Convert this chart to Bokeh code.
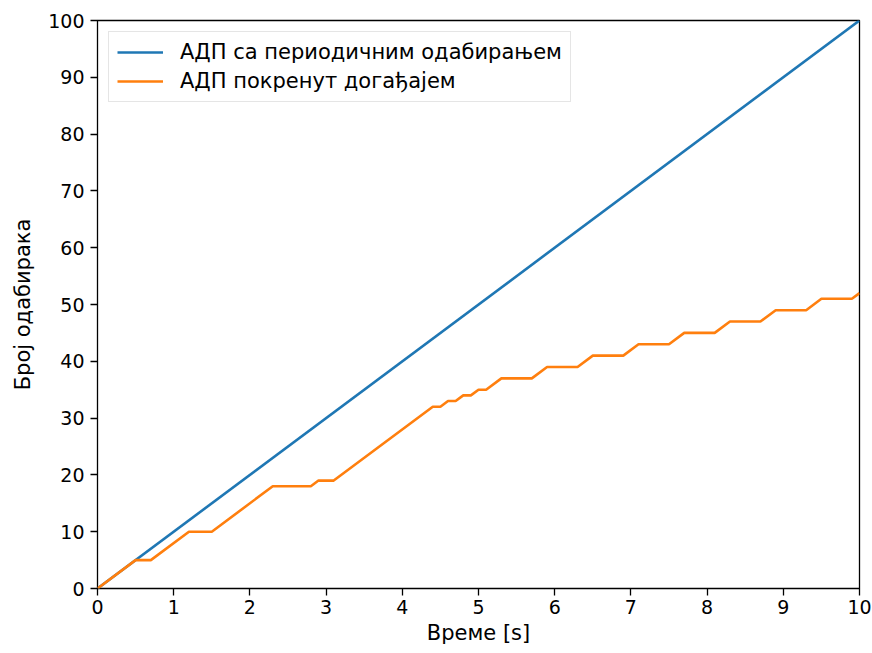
from bokeh.plotting import figure
from bokeh.models import Range1d, FixedTicker, Legend, LegendItem
from bokeh.embed import file_html
from bokeh.resources import INLINE

# Periodic ADC: one sample every 0.1 s
periodic_time = [0.0, 10.0]
periodic_count = [0, 100]

# Event-triggered ADC: breakpoints of the cumulative sample count
event_time = [0.0, 0.5, 0.7, 1.2, 1.5, 2.3, 2.8, 2.9, 3.1, 4.4, 4.5, 4.6, 4.7, 4.8,
              4.9, 5.0, 5.1, 5.3, 5.7, 5.9, 6.3, 6.5, 6.9, 7.1, 7.5, 7.7, 8.1, 8.3,
              8.7, 8.9, 9.3, 9.5, 9.9, 10.0]
event_count = [0, 5, 5, 10, 10, 18, 18, 19, 19, 32, 32, 33, 33, 34,
               34, 35, 35, 37, 37, 39, 39, 41, 41, 43, 43, 45, 45, 47,
               47, 49, 49, 51, 51, 52]

x_ticks = list(range(0, 11))
y_ticks = list(range(0, 101, 10))

labels = ["АДП са периодичним одабирањем", "АДП покренут догађајем"]
colors = ["#1f77b4", "#ff7f0e"]
FONT = "DejaVu Sans"

p = figure(width=872, height=653, output_backend="svg", toolbar_location=None,
           x_range=Range1d(0, 10), y_range=Range1d(0, 100),
           min_border_left=97, min_border_right=13, min_border_top=20,
           min_border_bottom=65)

r1 = p.line(periodic_time, periodic_count, line_color=colors[0], line_width=2.6)
r2 = p.line(event_time, event_count, line_color=colors[1], line_width=2.6)

p.xgrid.visible = False
p.ygrid.visible = False
p.outline_line_color = "black"
p.outline_line_width = 1.3

for ax, ticks in ((p.xaxis, x_ticks), (p.yaxis, y_ticks)):
    ax.ticker = FixedTicker(ticks=ticks)
    ax.axis_line_color = None
    ax.major_tick_line_color = "black"
    ax.major_tick_line_width = 1.3
    ax.major_tick_out = 7
    ax.major_tick_in = 0
    ax.minor_tick_line_color = None
    ax.major_label_text_font = FONT
    ax.major_label_text_font_size = "19px"
    ax.major_label_text_color = "black"
    ax.axis_label_text_font = FONT
    ax.axis_label_text_font_size = "21px"
    ax.axis_label_text_font_style = "normal"
    ax.axis_label_text_color = "black"

p.xaxis.axis_label = "Време [s]"
p.yaxis.axis_label = "Број одабирака"
p.xaxis.major_label_standoff = 4
p.yaxis.major_label_standoff = 6
p.xaxis.axis_label_standoff = 4
p.yaxis.axis_label_standoff = 10

legend = Legend(items=[LegendItem(label=labels[0], renderers=[r1]),
                       LegendItem(label=labels[1], renderers=[r2])],
                location="top_left")
legend.margin = 11
legend.padding = 8
legend.spacing = 5
legend.label_height = 24
legend.glyph_height = 24
legend.glyph_width = 46
legend.label_standoff = 17
legend.label_text_font = FONT
legend.label_text_font_size = "21px"
legend.label_text_color = "black"
legend.border_line_color = "#cccccc"
legend.border_line_width = 1.3
legend.background_fill_alpha = 0.8
p.add_layout(legend)

open("out.html", "w").write(file_html(p, INLINE))
